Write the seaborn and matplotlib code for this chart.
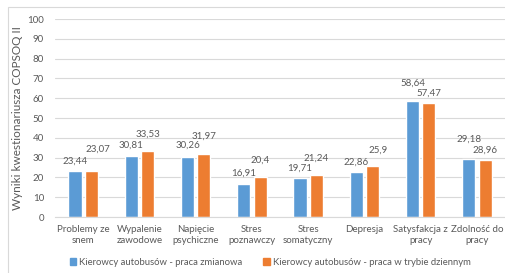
import pandas as pd
import seaborn as sns
import matplotlib.pyplot as plt
from matplotlib.patches import Rectangle

# data
categories = ["Problemy ze\nsnem", "Wypalenie\nzawodowe", "Napięcie\npsychiczne",
              "Stres\npoznawczy", "Stres\nsomatyczny", "Depresja",
              "Satysfakcja z\npracy", "Zdolność do\npracy"]
series_names = ["Kierowcy autobusów - praca zmianowa",
                "Kierowcy autobusów - praca w trybie dziennym"]
shift_work = [23.44, 30.81, 30.26, 16.91, 19.71, 22.86, 58.64, 29.18]
day_work = [23.07, 33.53, 31.97, 20.4, 21.24, 25.9, 57.47, 28.96]

colors = ["#5B9BD5", "#ED7D31"]
text_col = "#595959"

df = pd.DataFrame({
    "cat": categories * 2,
    "grp": [series_names[0]] * len(categories) + [series_names[1]] * len(categories),
    "val": shift_work + day_work,
})

sns.set_style("white")
plt.rcParams["font.family"] = ["Lato", "DejaVu Sans"]

fig = plt.figure(figsize=(5.05, 2.73), dpi=100)
ax = fig.add_axes([0.109, 0.205, 0.891, 0.725])

sns.barplot(data=df, x="cat", y="val", hue="grp", palette=colors,
            width=0.58, gap=0.2, ax=ax, legend=False, saturation=1)

ax.set_ylim(0, 100)
ax.set_yticks(range(0, 101, 10))
ax.set_xlim(-0.5, len(categories) - 0.5)
ax.grid(axis="y", color="#D9D9D9", linewidth=0.8)
ax.set_axisbelow(True)
for s in ["top", "right", "left"]:
    ax.spines[s].set_visible(False)
ax.spines["bottom"].set_color("#D9D9D9")
ax.tick_params(axis="both", length=0, colors=text_col, labelsize=7)
ax.tick_params(axis="y", pad=8)
ax.tick_params(axis="x", pad=6)
ax.set_xlabel("")
ax.set_ylabel("Wyniki kwestionariusza COPSOQ II", color=text_col, fontsize=8.5, labelpad=3)

# value labels (Excel-style staggered positions), offsets in pixels
blue_dy = [9, 11, 12, 10.5, 10, 10, 18, 20]
orange_dy = [22, 16.5, 17.5, 16.5, 17, 16, 10, 10]
orange_dx = [7, 0, 0, 0, 0, 6, 0, 0]

def fmt(v):
    return ("%g" % v).replace(".", ",")

for bars, vals, dys, dxs in [(ax.containers[0], shift_work, blue_dy, [0] * 8),
                             (ax.containers[1], day_work, orange_dy, orange_dx)]:
    for b, v, dy, dx in zip(bars, vals, dys, dxs):
        ax.annotate(fmt(v), (b.get_x() + b.get_width() / 2, b.get_height()),
                    xytext=(dx, dy), textcoords="offset pixels",
                    ha="center", va="center", fontsize=7, color=text_col)

handles = [Rectangle((0, 0), 1, 1, color=c) for c in colors]
fig.legend(handles, series_names, loc="center", bbox_to_anchor=(0.535, 0.04),
           ncol=2, frameon=False, fontsize=6.8, handlelength=0.7, handleheight=0.7,
           handletextpad=0.3, columnspacing=2.2, labelcolor=text_col)

# chart frame
fig.patches.append(Rectangle((8 / 505, -0.1), 1.1, 1 - 7 / 273 + 0.1,
                             transform=fig.transFigure, fill=False,
                             edgecolor="#D9D9D9", linewidth=0.8))

fig.savefig("out.png", dpi=100)
